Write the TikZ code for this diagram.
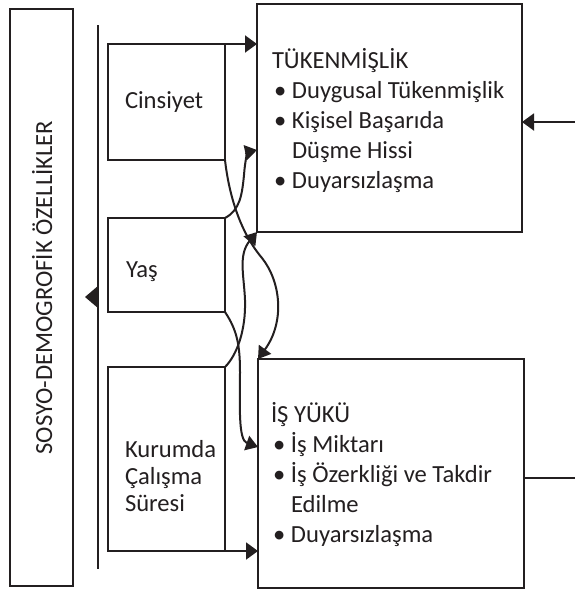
\documentclass[tikz,border=0pt]{standalone}
\usepackage{fontspec}
\setmainfont{Carlito}
\usetikzlibrary{arrows.meta}
\definecolor{ink}{HTML}{231F20}
\newcommand\itm{\hspace*{2pt}\makebox[18pt][l]{•}}
\newcommand\cnt{\hspace*{20pt}}
\begin{document}
\begin{tikzpicture}[x=1pt,y=-1pt, line join=miter,
  box/.style={draw=ink, line width=2.2pt, inner sep=0pt, outer sep=0pt, rectangle},
  txt/.style={anchor=base west, inner sep=0pt, outer sep=0pt, text=ink, font=\fontsize{24.6}{30}\selectfont},
  conn/.style={draw=ink, line width=2pt, -{Triangle[length=12pt,width=17pt]}},
  curvy/.style={draw=ink, line width=2pt, -{Triangle[length=12pt,width=15pt]}},
  plain/.style={draw=ink, line width=2pt}]
\useasboundingbox (0,0) rectangle (575,592);
% left box
\node[box, minimum width=63pt, minimum height=577pt] (sde) at (41.5,297.5) {};
\node[rotate=90, anchor=base, inner sep=0pt, text=ink, font=\fontsize{24.6}{30}\selectfont] (sdetxt) at (52,287.5) {SOSYO-DEMOGROFİK ÖZELLİKLER};
% middle boxes
\node[box, minimum width=117pt, minimum height=116pt] (cins) at (166.5,102) {};
\node[txt] (cinstxt) at (125,108) {Cinsiyet};
\node[box, minimum width=117pt, minimum height=94pt] (yas) at (166.5,265) {};
\node[txt] (yastxt) at (126,277) {Yaş};
\node[box, minimum width=117pt, minimum height=184pt] (kur) at (166.5,459) {};
\node[txt, font=\fontsize{24.6}{27}\selectfont] (kurtxt) at (125,457) {\begin{tabular}[t]{@{}l@{}}Kurumda\\Çalışma\\Süresi\end{tabular}};
% right boxes
\node[box, minimum width=265pt, minimum height=228pt] (tuk) at (389.5,118) {};
\node[txt] (tuktxt) at (272,68) {\begin{tabular}[t]{@{}l@{}}TÜKENMİŞLİK\\\itm Duygusal Tükenmişlik\\\itm Kişisel Başarıda\\\cnt Düşme Hissi\\\itm Duyarsızlaşma\end{tabular}};
\node[box, minimum width=266pt, minimum height=229pt] (isyuku) at (391,473.5) {};
\node[txt] (isyukutxt) at (271,422) {\begin{tabular}[t]{@{}l@{}}İŞ YÜKÜ\\\itm İş Miktarı\\\itm İş Özerkliği ve Takdir\\\cnt Edilme\\\itm Duyarsızlaşma\end{tabular}};
% vertical line with arrow
\coordinate (vtop) at (98,25);
\coordinate (vbot) at (98,569);
\coordinate (vmid) at (98,297);
\coordinate (vtip) at (85,297);
\draw[plain, line width=2.2pt] (vtop) -- (vbot);
\draw[conn, -{Triangle[length=12pt,width=20pt]}] (vmid) -- (vtip);
% straight connectors
\draw[conn] (cins.north east) -- (tuk.west |- cins.north east);
\draw[conn] (kur.south east) -- (isyuku.west |- kur.south east);
\coordinate (rin) at (575,122);
\draw[conn] (rin) -- (tuk.east |- rin);
\coordinate (rout) at (575,478);
\draw[plain] (isyuku.east |- rout) -- (rout);
% curved connectors
\draw[curvy] (cins.south east) .. controls (229,195) and (240,232) .. (262,258)
  .. controls (281,282) and (285,322) .. (isyuku.north west);
\draw[curvy] (yas.north east) .. controls (240,210) and (242,195) .. (244,175)
  .. controls (245,160) and (248,152) .. (tuk.west |- 0,150);
\draw[curvy] (yas.south east) .. controls (237,330) and (240,345) .. (240,372)
  .. controls (240,405) and (238,440) .. (isyuku.west |- 0,447);
\draw[curvy] (kur.north east) .. controls (237,355) and (246,330) .. (245,300)
  .. controls (244,275) and (238,255) .. (tuk.south west);
\end{tikzpicture}
\end{document}
